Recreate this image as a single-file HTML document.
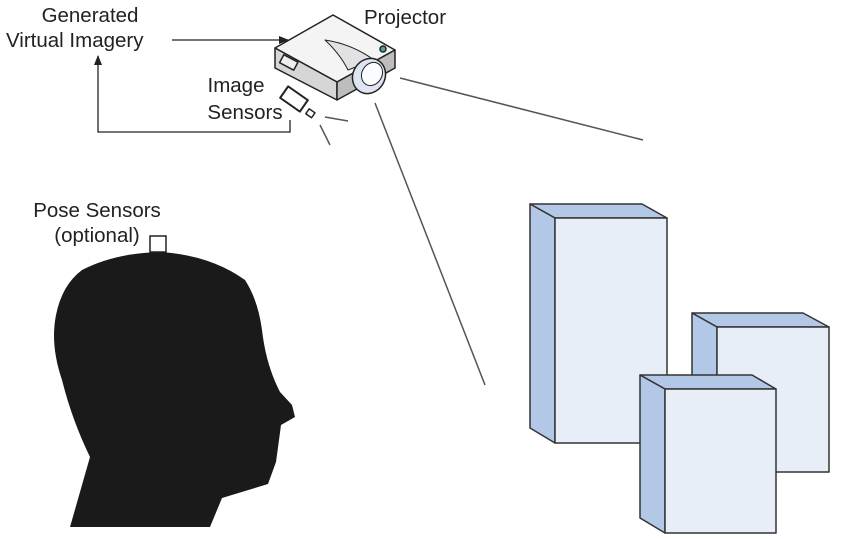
<!DOCTYPE html>
<html><head><style>
html,body{margin:0;padding:0;background:#fff;}
svg{display:block;}
text{font-family:"Liberation Sans",sans-serif;font-size:20.5px;fill:#222;}
</style></head><body>
<svg width="863" height="539" viewBox="0 0 863 539" xmlns="http://www.w3.org/2000/svg">
<defs><marker id="ah" markerWidth="10" markerHeight="8" refX="9" refY="4" orient="auto" markerUnits="userSpaceOnUse"><path d="M0,0 L10,4 L0,8 Z" fill="#222"/></marker></defs>
<text x="90" y="22" text-anchor="middle">Generated</text>
<text x="6" y="47">Virtual Imagery</text>
<text x="364" y="24">Projector</text>
<text x="236" y="92" text-anchor="middle">Image</text>
<text x="245" y="119" text-anchor="middle">Sensors</text>
<text x="97" y="217" text-anchor="middle">Pose Sensors</text>
<text x="97" y="242" text-anchor="middle">(optional)</text>
<line x1="172" y1="40" x2="288" y2="40" stroke="#222" stroke-width="1.3" marker-end="url(#ah)"/>
<polyline points="290,120 290,132 98,132 98,56" fill="none" stroke="#222" stroke-width="1.3" marker-end="url(#ah)"/>
<g stroke="#555" stroke-width="1.5">
<line x1="400" y1="78" x2="643" y2="140"/>
<line x1="375" y1="103" x2="485" y2="385"/>
<line x1="325" y1="117" x2="348" y2="121"/>
<line x1="320" y1="125" x2="330" y2="145"/>
</g>
<!-- projector -->
<g stroke="#222" stroke-width="1.5" stroke-linejoin="round">
<path d="M275,48 L333,15 L395,50 L337,82 Z" fill="#f4f4f4"/>
<path d="M275,48 L337,82 L337,100 L275,68 Z" fill="#d6d6d6"/>
<path d="M337,82 L395,50 L395,68 L337,100 Z" fill="#bdbdbd"/>
<rect x="281" y="58" width="16" height="9" fill="#eee" transform="rotate(28 289 62)"/>
<path d="M325,40 Q352,44 374,60 L348,70 Q340,54 325,40 Z" fill="#e2e2e2" stroke-width="1"/>
<ellipse cx="369" cy="76" rx="16" ry="18" fill="#dde5f0" transform="rotate(30 369 76)"/>
<ellipse cx="372" cy="74" rx="10" ry="12" fill="#fafcff" stroke-width="1" transform="rotate(30 372 74)"/>
<circle cx="383" cy="49" r="3" fill="#4a9"/>
<rect x="282" y="92" width="24" height="14" fill="#fff" stroke-width="2" transform="rotate(35 294 99)"/>
<rect x="307" y="110" width="7" height="6" fill="#fff" stroke-width="1.5" transform="rotate(35 310 113)"/>
</g>
<!-- head -->
<path d="M160,252 Q210,255 245,280 Q258,300 262,330 Q266,365 280,392 L292,405 L295,417 L281,425 L279,440 L276,462 L268,484 L222,498 L210,527 L70,527 L90,457 Q72,420 62,380 Q50,345 56,315 Q62,285 82,270 Q115,253 160,252 Z" fill="#1a1a1a"/>
<rect x="150" y="236" width="16" height="16" fill="#fff" stroke="#222" stroke-width="1.5"/>
<!-- boxes -->
<g stroke="#333" stroke-width="1.5" stroke-linejoin="round">
<path d="M530,204 L642,204 L667,218 L555,218 Z" fill="#b3c7e6"/>
<path d="M530,204 L555,218 L555,443 L530,428 Z" fill="#b3c7e6"/>
<rect x="555" y="218" width="112" height="225" fill="#e7eef8"/>
<path d="M692,313 L803,313 L829,327 L717,327 Z" fill="#b3c7e6"/>
<path d="M692,313 L717,327 L717,470 L692,470 Z" fill="#b3c7e6"/>
<rect x="717" y="327" width="112" height="145" fill="#e7eef8"/>
<path d="M640,375 L752,375 L776,389 L665,389 Z" fill="#b3c7e6"/>
<path d="M640,375 L665,389 L665,533 L640,518 Z" fill="#b3c7e6"/>
<rect x="665" y="389" width="111" height="144" fill="#e7eef8"/>
</g>
</svg>
</body></html>
